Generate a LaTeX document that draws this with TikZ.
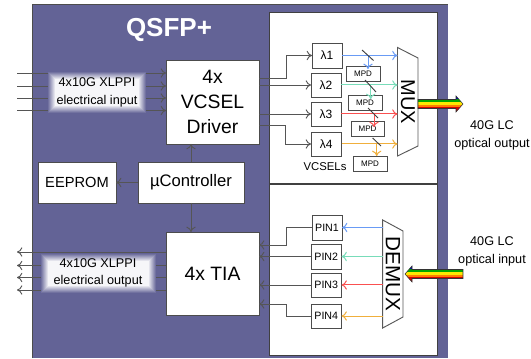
\documentclass[tikz,border=0pt]{standalone}
\usepackage{fontspec}
\setmainfont{Liberation Sans}
\usepackage{xcolor}
\usetikzlibrary{arrows.meta,calc}
\definecolor{qsfp}{RGB}{99,99,150}
\definecolor{wiregray}{RGB}{85,85,85}
\definecolor{beamblue}{RGB}{105,155,245}
\definecolor{beamgreen}{RGB}{120,220,185}
\definecolor{beamred}{RGB}{250,80,80}
\definecolor{beamorange}{RGB}{240,175,60}
\tikzset{
  wire/.style={draw=wiregray,line width=0.7pt},
  wirearrow/.style={wire,-{To[length=4pt,width=7pt]}},
  beam/.style={line width=0.75pt,-{To[length=4pt,width=7pt]}},
  mirror/.style={draw=black!75,line width=0.7pt},
  blockbox/.style={draw=black!70,fill=white,line width=0.7pt,inner sep=0pt,outer sep=0pt,align=center},
  labeltext/.style={inner sep=0pt,align=center,font=\fontsize{9.5}{13}\selectfont},
}
% #1 name, #2 #3 top left, #4 #5 bottom right, #6 font size, #7 text
\newcommand{\blk}[7]{
\node[blockbox,minimum width={(#4-#2)*0.75pt},minimum height={(#5-#3)*0.75pt},font=\fontsize{#6}{\dimexpr #6pt*13/10\relax}\selectfont] (#1) at ({(#2+#4)/2},{(#3+#5)/2}) {#7};
}
% soft white patch behind the electrical labels
\newcommand{\glow}[4]{
\foreach \k in {0,1,...,7}{
\pgfmathtruncatemacro{\shadeval}{90-\k*12}
\fill[qsfp!\shadeval!white] (#1+\k,#2+\k) rectangle (#3-\k,#4-\k);
}
}
% #1 #2 back end, #3 tip, #4 direction of the tip
\newcommand{\rainbow}[4]{
\begin{scope}
\clip (#1,#2-4.5)--(#3-#4*7,#2-4.5)--(#3-#4*7,#2-8)--(#3,#2)--(#3-#4*7,#2+8)--(#3-#4*7,#2+4.5)--(#1,#2+4.5)--cycle;
\fill[blue!70!black] (#1,#2-9) rectangle (#3,#2-4.5);
\fill[green!65!black] (#1,#2-4.5) rectangle (#3,#2-1.5);
\fill[yellow!90!orange] (#1,#2-1.5) rectangle (#3,#2+1);
\fill[orange] (#1,#2+1) rectangle (#3,#2+3);
\fill[red!85!black] (#1,#2+3) rectangle (#3,#2+9);
\end{scope}
\draw[black!80,line width=0.4pt] (#1,#2-4.5)--(#3-#4*7,#2-4.5)--(#3-#4*7,#2-8)--(#3,#2)--(#3-#4*7,#2+8)--(#3-#4*7,#2+4.5)--(#1,#2+4.5)--cycle;
}

\begin{document}
\begin{tikzpicture}[x=0.75pt,y=-0.75pt]
\useasboundingbox (0,0) rectangle (531,359);

% module and the two panels
\fill[qsfp] (32,4.5) rectangle (448,358);
\draw[black!70,line width=0.7pt] (32,358)--(32,4.5)--(448,4.5);
\draw[black!75,fill=white,line width=0.7pt] (269,12) rectangle (437.5,183);
\draw[black!75,fill=white,line width=0.7pt] (269,184) rectangle (437.5,355);
\node[text=white,inner sep=0pt,font=\fontsize{19.5}{24}\bfseries\selectfont] (title) at (169,30) {QSFP+};

% electric blocks
\blk{drv}{166}{60}{259}{144}{14.5}{4x\\VCSEL\\Driver}
\blk{tia}{166}{232}{259}{315}{14.5}{4x TIA}
\blk{eeprom}{38}{162}{116}{203}{11}{EEPROM}
\blk{ctrl}{138}{162}{244}{203}{12.5}{µController}

\draw[wirearrow] (ctrl.north) -- (ctrl.north |- drv.south);
\draw[wirearrow] (ctrl.west) -- (eeprom.east);
\draw[wirearrow] (ctrl.south) -- (ctrl.south |- tia.north);

% electrical input
\coordinate (inA) at (17,73);
\coordinate (inB) at (17,86);
\coordinate (inC) at (17,98);
\coordinate (inD) at (17,110.5);
\draw[wirearrow] (inA) -- (inA -| drv.west);
\draw[wirearrow] (inB) -- (inB -| drv.west);
\draw[wirearrow] (inC) -- (inC -| drv.west);
\draw[wirearrow] (inD) -- (inD -| drv.west);
\glow{48}{72}{146}{113}
\node[labeltext] (inlabel) at (97,92.5) {4x10G XLPPI\\electrical input};

% electrical output
\coordinate (outA) at (17,252);
\coordinate (outB) at (17,265.5);
\coordinate (outC) at (17,277.5);
\coordinate (outD) at (17,290);
\draw[wirearrow] (outA -| tia.west) -- (outA);
\draw[wirearrow] (outB -| tia.west) -- (outB);
\draw[wirearrow] (outC -| tia.west) -- (outC);
\draw[wirearrow] (outD -| tia.west) -- (outD);
\glow{41}{254}{156}{293}
\node[labeltext] (outlabel) at (98,273) {4x10G XLPPI\\electrical output};

% transmitter
\blk{lam1}{312}{43}{342}{68}{9}{λ1}
\blk{lam2}{311}{73}{341}{97}{9}{λ2}
\blk{lam3}{311}{102}{341}{126}{9}{λ3}
\blk{lam4}{311}{132}{341.5}{156}{9}{λ4}
\blk{mpd1}{346}{66}{380}{81}{6}{MPD}
\blk{mpd2}{348}{95}{382}{110}{6}{MPD}
\blk{mpd3}{351}{121}{384}{136}{6}{MPD}
\blk{mpd4}{353}{156}{387}{171}{6}{MPD}
\node[inner sep=0pt,font=\fontsize{8.5}{10}\selectfont] (vcsels) at (325,167) {VCSELs};

\draw[wirearrow] (drv.east |- 0,78) -- (286,78) |- (lam1.west);
\draw[wirearrow] (drv.east |- lam2.west) -- (lam2.west);
\draw[wirearrow] (drv.east |- lam3.west) -- (lam3.west);
\draw[wirearrow] (drv.east |- 0,125) -- (285,125) |- (lam4.west);

\draw[black!65,fill=white,line width=0.7pt] (397.5,47.5)--(418,58)--(418,146)--(397.5,156)--cycle;
\coordinate (muxin) at (397.5,102);
\node[rotate=-90,inner sep=0pt,font=\fontsize{15}{15}\selectfont] (mux) at (408,102) {MUX};

\draw[beam,beamblue] (lam1.east) -- (lam1.east -| muxin);
\draw[beam,beamgreen] (lam2.east) -- (lam2.east -| muxin);
\draw[beam,beamred] (lam3.east) -- (lam3.east -| muxin);
\draw[beam,beamorange] (lam4.east) -- (lam4.east -| muxin);
\draw[beam,beamblue] (368,55.5) -- (368,69);
\draw[beam,beamgreen] (370.7,85) -- (370.7,99);
\draw[beam,beamred] (374,114) -- (374,127);
\draw[beam,beamorange] (376.7,144) -- (376.7,156);
\draw[mirror] (362,50) -- (373.5,60.5);
\draw[mirror] (365,80) -- (376,92);
\draw[mirror] (368,108) -- (378,118);
\draw[mirror] (372.6,138) -- (381,146);

% receiver
\blk{pin1}{312}{215}{342}{240}{8}{PIN1}
\blk{pin2}{311}{244}{341.5}{269}{8}{PIN2}
\blk{pin3}{311}{273}{341.5}{297}{8}{PIN3}
\blk{pin4}{311}{304}{341.5}{328}{8}{PIN4}

\draw[wirearrow] (pin1.west) -- (286,227.5) |- (tia.east |- 0,245);
\draw[wirearrow] (pin2.west) -- (tia.east |- pin2.west);
\draw[wirearrow] (pin3.west) -- (tia.east |- pin3.west);
\draw[wirearrow] (pin4.west) -- (286,316) |- (tia.east |- 0,304);

\draw[black!65,fill=white,line width=0.7pt] (382.7,220)--(403,231)--(403,317)--(382.7,328)--cycle;
\coordinate (demuxout) at (383,274);
\node[rotate=-90,inner sep=0pt,font=\fontsize{15.5}{15.5}\selectfont] (demux) at (393,274) {DEMUX};

\draw[beam,beamblue] (demuxout |- pin1.east) -- (pin1.east);
\draw[beam,beamgreen] (demuxout |- pin2.east) -- (pin2.east);
\draw[beam,beamred] (demuxout |- pin3.east) -- (pin3.east);
\draw[beam,beamorange] (demuxout |- pin4.east) -- (pin4.east);

% optical side
\rainbow{418}{104}{463}{1}
\rainbow{463}{274}{405}{-1}
\node[labeltext] (txlabel) at (492,135.5) {40G LC\\optical output};
\node[labeltext] (rxlabel) at (492,251.5) {40G LC\\optical input};

\end{tikzpicture}
\end{document}
